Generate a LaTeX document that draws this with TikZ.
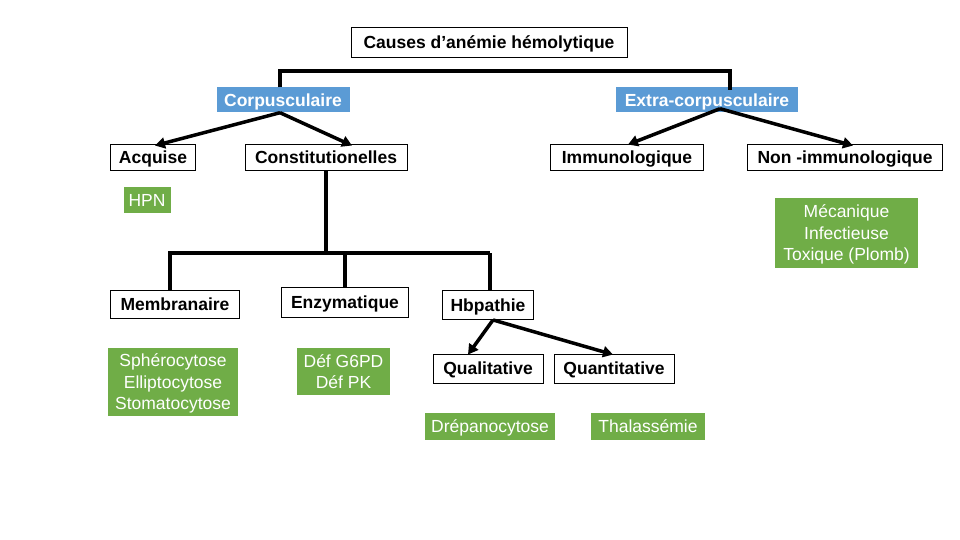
\documentclass[tikz,border=0pt]{standalone}
\usepackage{fontspec}
\setmainfont{Liberation Sans}
\usetikzlibrary{arrows.meta,calc}
\definecolor{hblue}{RGB}{91,155,213}
\definecolor{hgreen}{RGB}{112,173,71}
\tikzset{
  base/.style={inner sep=0pt,text height=12.5pt,text depth=0pt,font=\fontsize{17.5}{21.5}\selectfont},
  wbox/.style={base,draw=black,line width=0.9pt,fill=white,font=\fontsize{17.5}{21.5}\selectfont\bfseries},
  bbox/.style={base,fill=hblue,text=white,font=\fontsize{17.5}{21.5}\selectfont\bfseries},
  gbox/.style={base,fill=hgreen,text=white},
  gbox2/.style={gbox,align=center,text height=34pt},
  gbox3/.style={gbox,align=center,text height=55.5pt},
  conn/.style={line width=3.5pt,line cap=rect},
  arr/.style={line width=3.5pt,-{Triangle[length=10pt,width=11pt]}},
}
\begin{document}
\begin{tikzpicture}[x=1pt,y=-1pt]
\useasboundingbox (0,0) rectangle (960,540);
% nodes
\node[wbox,minimum width=276,minimum height=30] (title) at (489,42) {Causes d’anémie hémolytique};
\node[bbox,minimum width=133,minimum height=25] (corp) at (283,100) {Corpusculaire};
\node[bbox,minimum width=182,minimum height=25] (extra) at (707,100) {Extra-corpusculaire};
\node[wbox,minimum width=85,minimum height=26] (acq) at (153,157) {Acquise};
\node[wbox,minimum width=162,minimum height=26] (const) at (326,157) {Constitutionelles};
\node[wbox,minimum width=153,minimum height=26] (immu) at (627,157) {Immunologique};
\node[wbox,minimum width=195,minimum height=26] (nonim) at (845,157) {Non -immunologique};
\node[gbox,minimum width=47,minimum height=26] (hpn) at (147,200) {HPN};
\node[gbox3,minimum width=143,minimum height=70] (meca) at (846.5,233) {Mécanique\\Infectieuse\\Toxique (Plomb)};
\node[wbox,minimum width=129,minimum height=28] (memb) at (175,304) {Membranaire};
\node[wbox,minimum width=127,minimum height=30] (enz) at (345,302) {Enzymatique};
\node[wbox,minimum width=91,minimum height=29] (hb) at (488,305) {Hbpathie};
\node[wbox,minimum width=110,minimum height=29] (qual) at (488,368.5) {Qualitative};
\node[wbox,minimum width=120,minimum height=29] (quant) at (614,368.5) {Quantitative};
\node[gbox3,minimum width=130,minimum height=68] (spher) at (173,382) {Sphérocytose\\ Elliptocytose\\ Stomatocytose};
\node[gbox2,minimum width=93,minimum height=47] (def) at (343.5,371.5) {Déf G6PD\\Déf PK};
\node[gbox,minimum width=130,minimum height=27] (drep) at (490,426.5) {Drépanocytose};
\node[gbox,minimum width=114,minimum height=27] (thal) at (648,426.5) {Thalassémie};
% top connector
\coordinate (tl) at (280,71);
\coordinate (tr) at (730,71);
\draw[conn,line cap=butt] (corp.north -| tl) -- (tl) -- (tr) -- ([yshift=-3]tr |- extra.north);
% corpusculaire arrows
\draw[arr] ([xshift=-3]corp.south) -- ([xshift=2,yshift=-2]acq.north);
\draw[arr] ([xshift=-3]corp.south) -- ([xshift=26,yshift=-2]const.north);
% extra arrows
\draw[arr] ([xshift=13,yshift=4]extra.south) -- ([xshift=1,yshift=-1]immu.north);
\draw[arr] ([xshift=13,yshift=4]extra.south) -- ([xshift=8,yshift=-2]nonim.north);
% constitutionelles tree
\coordinate (hj) at (326,253);
\draw[conn,line cap=butt] (const.south) -- (hj);
\draw[conn] ([xshift=-5]memb.north |- hj) -- (hb.north |- hj);
\draw[conn,line cap=butt] ([xshift=-5]memb.north |- hj) -- ([xshift=-5]memb.north);
\draw[conn,line cap=butt] (enz.north |- hj) -- ([yshift=-1]enz.north);
\draw[conn,line cap=butt] ([xshift=2]hb.north |- hj) -- ([xshift=2]hb.north);
% hbpathie arrows
\draw[arr] ([xshift=5]hb.south) -- ([xshift=-20,yshift=-1]qual.north);
\draw[arr] ([xshift=5]hb.south) -- ([xshift=-1,yshift=-1]quant.north);
\end{tikzpicture}
\end{document}
